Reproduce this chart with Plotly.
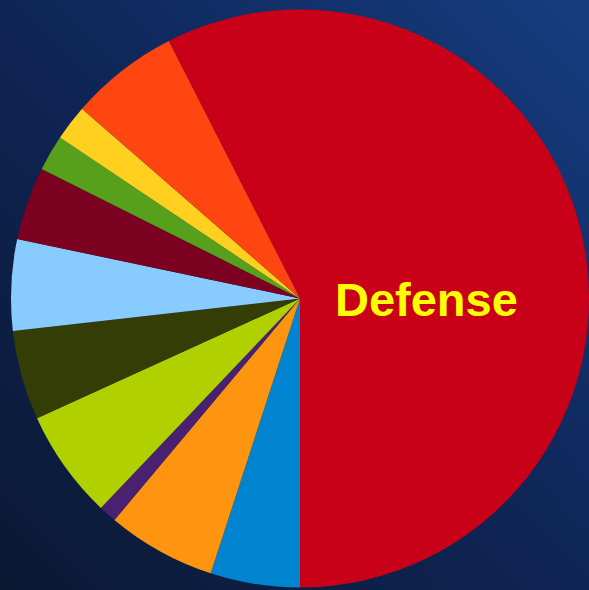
import plotly.graph_objects as go

labels = ["Defense", "Veterans' Benefits", "Education", "Science", "Health",
          "Housing & Community", "International Affairs", "Energy & Environment",
          "Transportation", "Food & Agriculture", "Government"]
values = [57.5, 5.0, 6.1, 1.0, 6.1, 5.0, 5.1, 4.1, 2.0, 2.0, 6.1]
colors = ["#c80018", "#0084d0", "#ff9410", "#4a2070", "#b0d000", "#333d05",
          "#88ccff", "#7c0020", "#56a01c", "#ffd020", "#ff4610"]
shown_label = "Defense"

W, H = 589, 590
cx, cy, r = 301, 298.5, 290

fig = go.Figure(go.Pie(
    labels=labels, values=values, sort=False, direction="clockwise",
    rotation=-27, textinfo="none", showlegend=False,
    marker=dict(colors=colors, line=dict(width=0)),
    domain=dict(x=[(cx - r) / W, min(1.0, (cx + r) / W)],
                y=[(H - cy - r) / H, (H - cy + r) / H]),
))

fig.add_annotation(
    text=shown_label, x=426.5 / W, y=(H - 299) / H, xref="paper", yref="paper",
    showarrow=False, xanchor="center", yanchor="middle",
    font=dict(family="Liberation Sans, Arial", size=47, color="#ffff00", weight="bold"),
)

fig.update_layout(
    width=W, height=H, margin=dict(l=0, r=0, t=0, b=0),
    paper_bgcolor="rgba(0,0,0,0)", plot_bgcolor="rgba(0,0,0,0)",
)

post = ("document.body.style.margin='0';"
        "document.body.style.background='linear-gradient(to bottom left, #153d80 0%, #0f2556 50%, #0a1832 100%)';"
        "document.body.style.minHeight='590px';")
fig.write_html("out.html", post_script=post, config={"displayModeBar": False})
